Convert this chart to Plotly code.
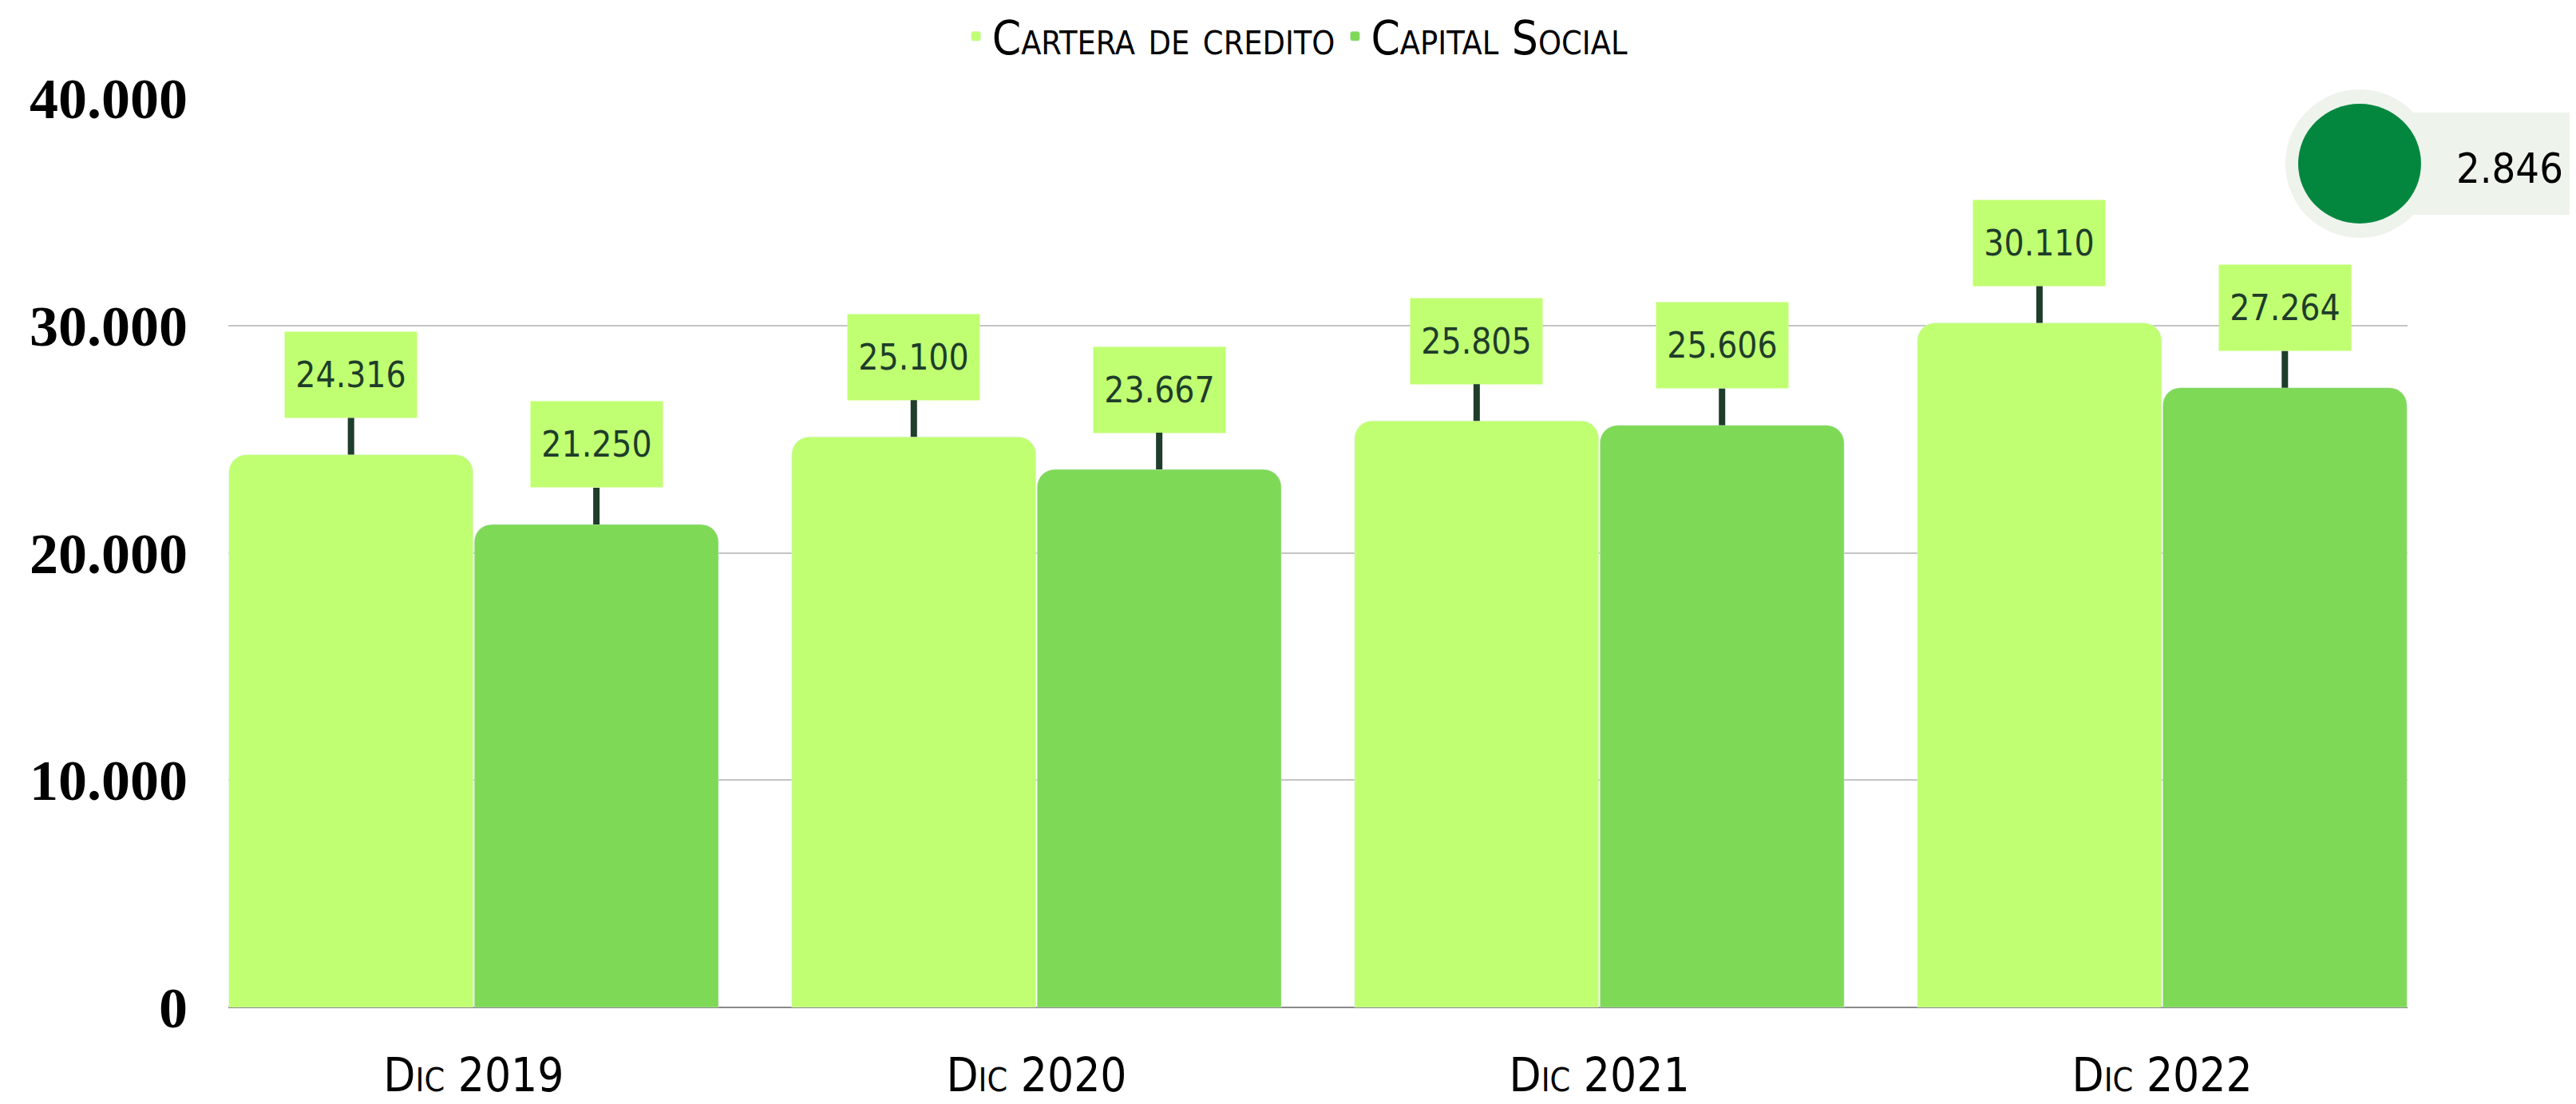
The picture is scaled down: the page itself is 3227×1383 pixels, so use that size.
import plotly.graph_objects as go

# data
categories = ["Dic 2019", "Dic 2020", "Dic 2021", "Dic 2022"]
cartera = [24316, 25100, 25805, 30110]
capital = [21250, 23667, 25606, 27264]
badge_value = 2846

LIGHT = "#C1FF72"
MID = "#7ED957"
DARK = "#1E3D2A"
COND = "Liberation Sans Narrow, DejaVu Sans Condensed, Arial Narrow, sans-serif"


def fmt(v):
    return f"{v:,}".replace(",", ".")


bargap = 0.128
half = (1 - bargap) / 4
xs = list(range(len(categories)))

fig = go.Figure()
fig.add_trace(go.Bar(x=xs, y=cartera, name="Cartera de credito",
                     marker=dict(color=LIGHT, cornerradius=22)))
fig.add_trace(go.Bar(x=xs, y=capital, name="Capital Social",
                     marker=dict(color=MID, cornerradius=22)))

# value boxes with stems
for series, off in ((cartera, -half), (capital, half)):
    for i, v in enumerate(series):
        fig.add_annotation(
            x=i + off, y=v, xref="x", yref="y",
            text=fmt(v), showarrow=True, arrowhead=0, arrowwidth=8,
            arrowcolor=DARK, ax=0, ay=-100, standoff=0,
            width=165, height=107, borderpad=0, bgcolor=LIGHT,
            font=dict(family=COND, size=44, color=DARK),
        )

# badge at top right
cx, cy = 0.978, 0.928
fig.add_shape(type="rect", xref="paper", yref="paper", xsizemode="pixel", ysizemode="pixel",
              xanchor=cx, yanchor=cy, x0=0, x1=300, y0=-64, y1=64,
              fillcolor="#EEF3EC", line_width=0, layer="above")
fig.add_shape(type="circle", xref="paper", yref="paper", xsizemode="pixel", ysizemode="pixel",
              xanchor=cx, yanchor=cy, x0=-93, x1=93, y0=-93, y1=93,
              fillcolor="#EEF3EC", line_width=0, layer="above")
fig.add_shape(type="circle", xref="paper", yref="paper", xsizemode="pixel", ysizemode="pixel",
              xanchor=cx, yanchor=cy, x0=-77, x1=77, y0=-75, y1=75,
              fillcolor="#03873F", line_width=0, layer="above")
fig.add_annotation(x=cx, y=cy, xref="paper", yref="paper", text=fmt(badge_value),
                   showarrow=False, xanchor="center", yanchor="middle", xshift=188, yshift=-6,
                   font=dict(family=COND, size=52, color="black"))

# page body keeps an 8px margin, so the figure is shifted/shrunk to compensate
fig.update_layout(
    width=3219, height=1375,
    margin=dict(l=278, r=211, t=115, b=121, autoexpand=False),
    paper_bgcolor="white", plot_bgcolor="white",
    barmode="group", bargap=bargap, bargroupgap=0.005,
    separators=",.",
    showlegend=True,
    legend=dict(orientation="h", x=0.49, xanchor="center", y=1.068, yanchor="middle",
                font=dict(family=COND, size=58, color="black", variant="small-caps"),
                itemwidth=30),
    xaxis=dict(range=[-0.436, 3.436], tickvals=xs, ticktext=categories,
               showgrid=False, zeroline=False, showline=False,
               tickfont=dict(family=COND, size=58, color="black", variant="small-caps"),
               ticklabelstandoff=46),
    yaxis=dict(range=[0, 40000], dtick=10000, tickformat=",d",
               showgrid=True, gridcolor="#C4C4C4", gridwidth=2,
               zeroline=True, zerolinecolor="#8A8A8A", zerolinewidth=2,
               tickfont=dict(family="Liberation Serif, serif", size=72, color="black", weight="bold"),
               ticklabelstandoff=50),
)

fig.write_html("out.html")
